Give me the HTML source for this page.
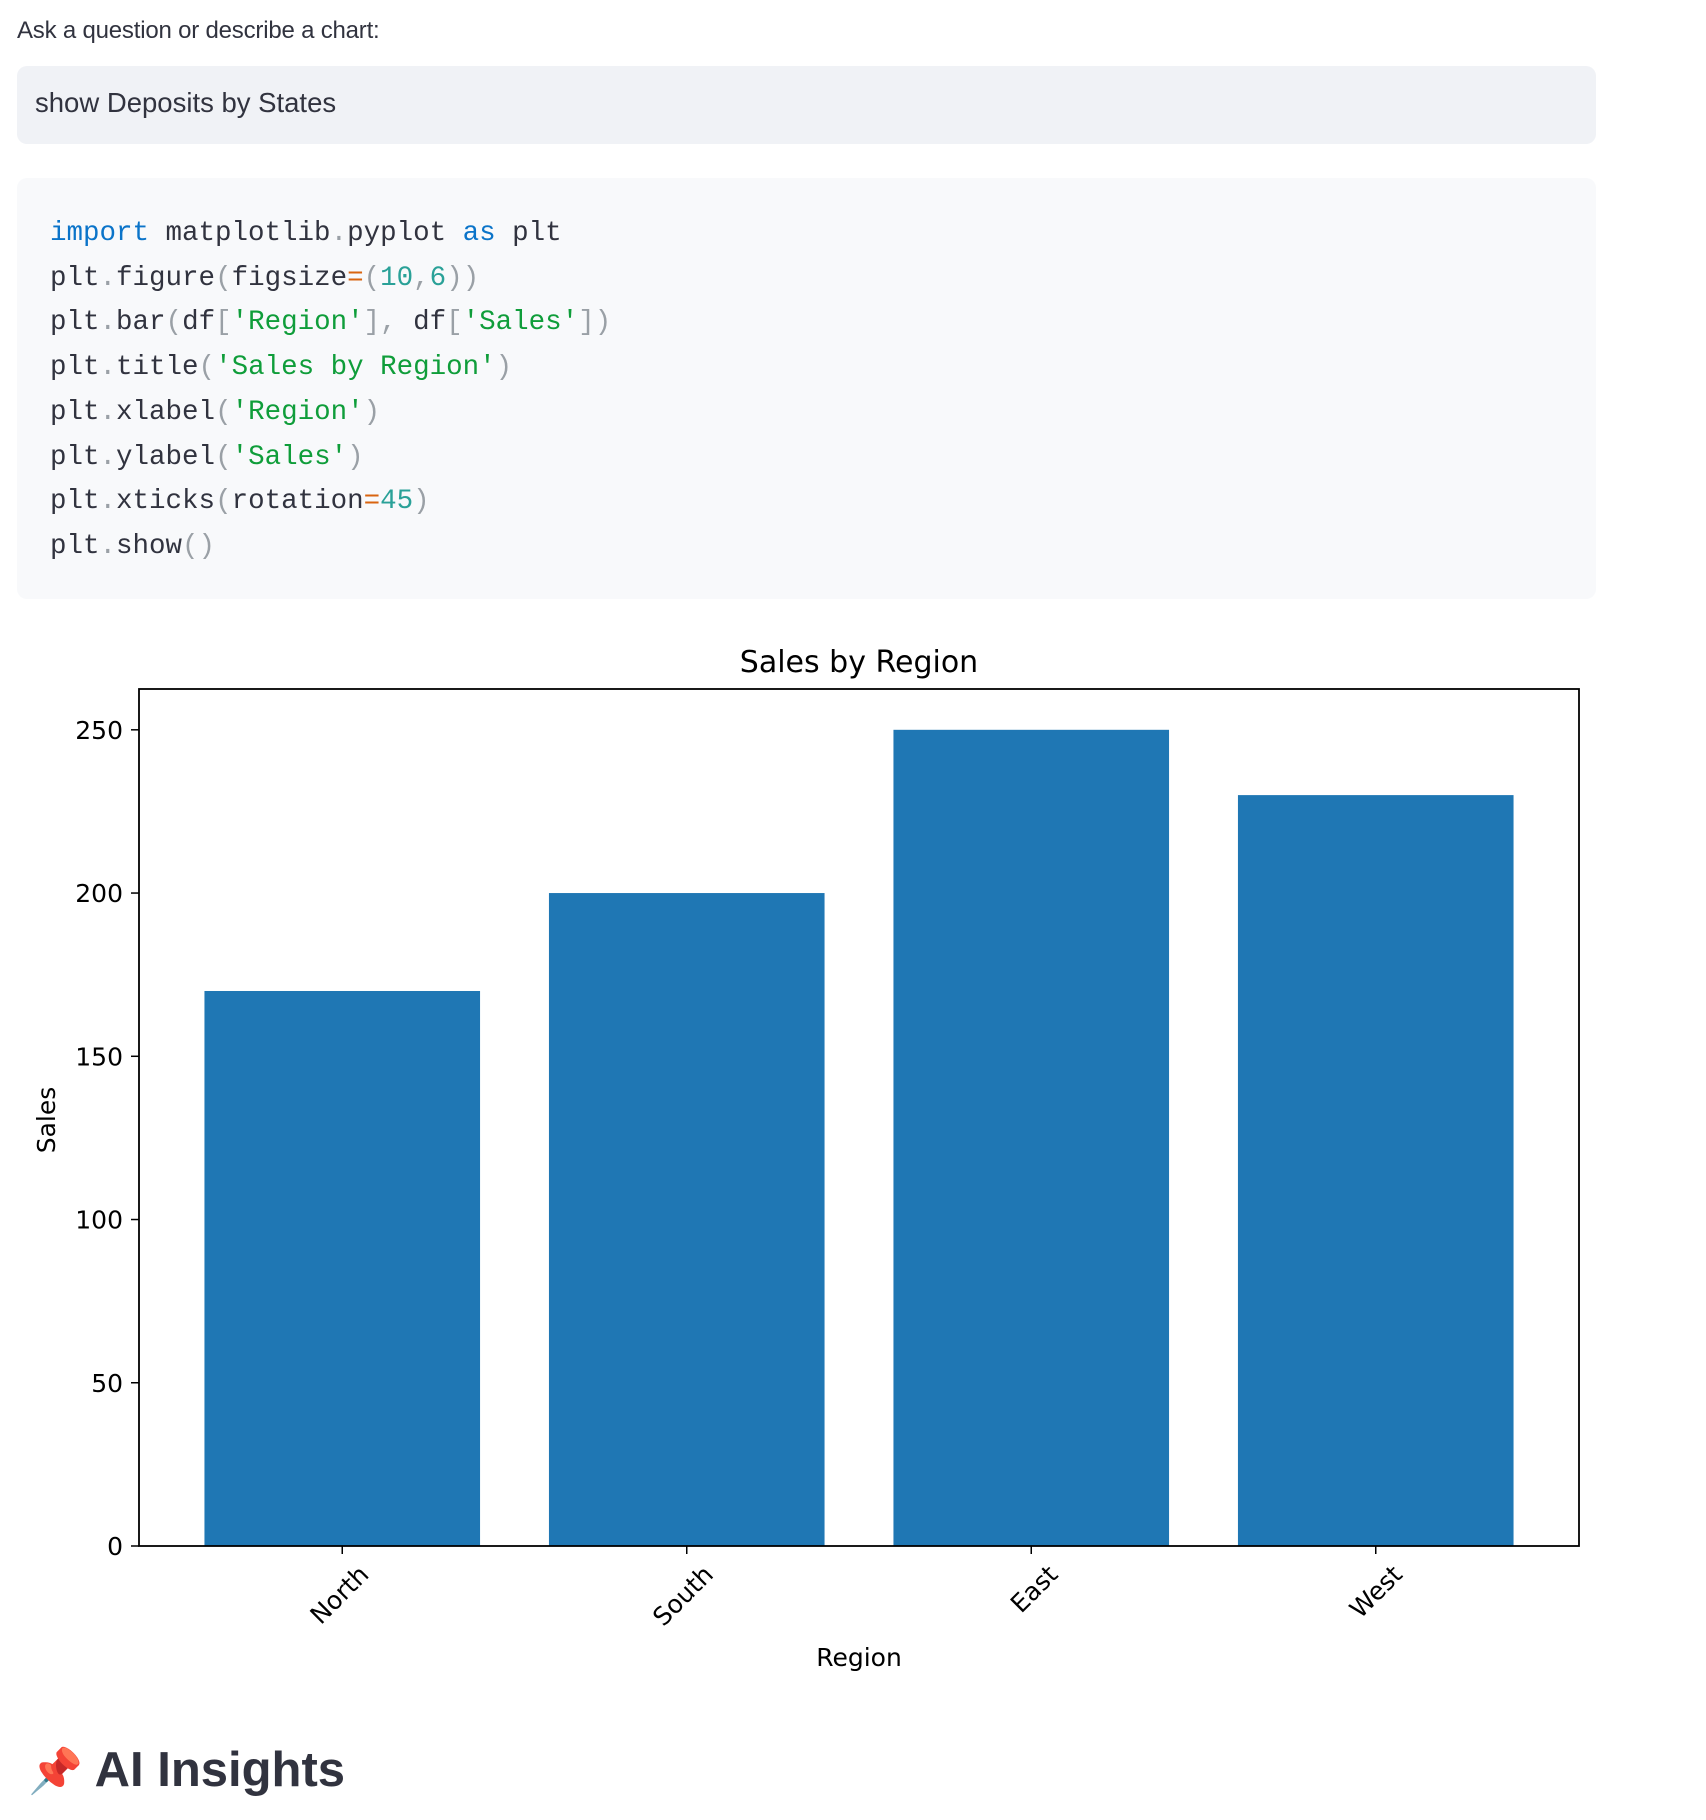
<!DOCTYPE html>
<html><head><meta charset="utf-8"><style>
body{margin:0;width:1706px;height:1820px;background:#fff;position:relative;overflow:hidden;font-family:"Liberation Sans",sans-serif;color:#31333f}
.abs{position:absolute}
.code{font-family:"Liberation Mono",monospace;font-size:27.5px;white-space:pre;color:#31333f}
.k{color:#0b74c9}.s{color:#0f9d3a}.n{color:#2aa198}.o{color:#d9640f}.p{color:#9aa0a6}
</style></head><body>
<div class="abs" style="left:17px;top:17px;font-size:24px;letter-spacing:-0.2px">Ask a question or describe a chart:</div>
<div class="abs" style="left:17px;top:66px;width:1579px;height:78px;background:#f0f2f6;border-radius:10px">
<span style="position:absolute;left:18px;top:21px;font-size:27.5px">show Deposits by States</span></div>
<div class="abs" style="left:17px;top:178px;width:1579px;height:421px;background:#f8f9fb;border-radius:10px">
<div class="code" style="position:absolute;left:33px;top:34px;line-height:44.7px"><span class="k">import</span> matplotlib<span class="p">.</span>pyplot <span class="k">as</span> plt
plt<span class="p">.</span>figure<span class="p">(</span>figsize<span class="o">=</span><span class="p">(</span><span class="n">10</span><span class="p">,</span><span class="n">6</span><span class="p">))</span>
plt<span class="p">.</span>bar<span class="p">(</span>df<span class="p">[</span><span class="s">'Region'</span><span class="p">],</span> df<span class="p">[</span><span class="s">'Sales'</span><span class="p">])</span>
plt<span class="p">.</span>title<span class="p">(</span><span class="s">'Sales by Region'</span><span class="p">)</span>
plt<span class="p">.</span>xlabel<span class="p">(</span><span class="s">'Region'</span><span class="p">)</span>
plt<span class="p">.</span>ylabel<span class="p">(</span><span class="s">'Sales'</span><span class="p">)</span>
plt<span class="p">.</span>xticks<span class="p">(</span>rotation<span class="o">=</span><span class="n">45</span><span class="p">)</span>
plt<span class="p">.</span>show<span class="p">()</span></div></div>
<svg class="abs" style="left:0;top:0" width="1706" height="1820" id="chart"></svg>
<div class="abs" style="left:28px;top:1742px;font-size:49px;font-weight:bold;color:#31333f"><span style="font-size:44px">📌</span> AI Insights</div>
<script>
const categories=["North","South","East","West"];
const sales=[170,200,250,230];
const yTicks=[0,50,100,150,200,250];
const NS="http://www.w3.org/2000/svg";
const svg=document.getElementById('chart');
const L=139,R=1579,T=689,B=1546,ymax=262.5,xmin=-0.59,xmax=3.59;
const xs=v=>L+(v-xmin)/(xmax-xmin)*(R-L);
const ys=v=>B-v/ymax*(B-T);
function mk(tag,attrs){const e=document.createElementNS(NS,tag);for(const k in attrs)e.setAttribute(k,attrs[k]);svg.appendChild(e);return e;}
sales.forEach((v,i)=>{
 const r=mk('rect',{x:xs(i-0.4),y:ys(v),width:xs(i+0.4)-xs(i-0.4),height:ys(0)-ys(v),fill:'#1f77b4'});
 
 
 mk('line',{x1:xs(i),x2:xs(i),y1:B,y2:B+8,stroke:'#000','stroke-width':1.5});
 const ax=xs(i)+28, ay=B+30;
 const t=mk('text',{x:ax,y:ay,'font-size':25,'text-anchor':'end',fill:'#000',transform:`rotate(-45 ${ax} ${ay})`,'font-family':'DejaVu Sans, sans-serif'});
 t.textContent=categories[i];
 
 
});
yTicks.forEach(v=>{
 mk('line',{x1:L-8,x2:L,y1:ys(v),y2:ys(v),stroke:'#000','stroke-width':1.5});
 const t=mk('text',{x:L-16,y:ys(v)+9,'font-size':25,'text-anchor':'end',fill:'#000','font-family':'DejaVu Sans, sans-serif'});
 t.textContent=v;
 
 
});
const f=mk('rect',{x:L,y:T,width:R-L,height:B-T,fill:'none',stroke:'#000','stroke-width':1.8});


const ti=mk('text',{x:(L+R)/2,y:672,'font-size':30,'text-anchor':'middle',fill:'#000','font-family':'DejaVu Sans, sans-serif'});
ti.textContent='Sales by Region';


const xl=mk('text',{x:(L+R)/2,y:1666,'font-size':25,'text-anchor':'middle',fill:'#000','font-family':'DejaVu Sans, sans-serif'});
xl.textContent='Region';


const yl=mk('text',{x:55,y:1120,'font-size':25,'text-anchor':'middle',fill:'#000','font-family':'DejaVu Sans, sans-serif',transform:'rotate(-90 55 1120)'});
yl.textContent='Sales';


</script>
</body></html>
